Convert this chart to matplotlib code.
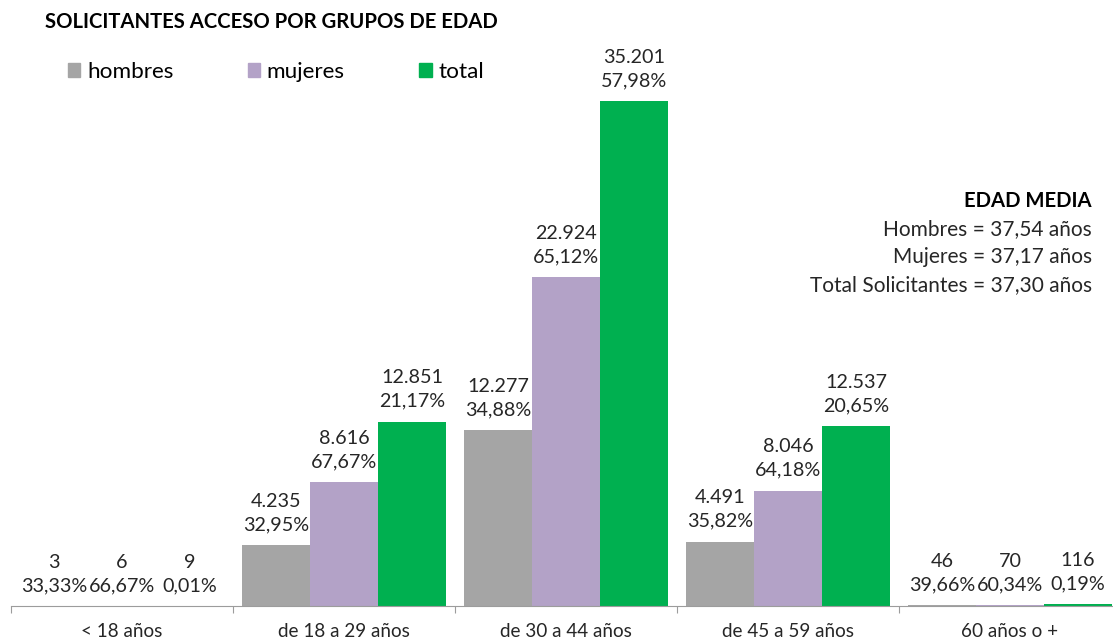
import numpy as np
import matplotlib
matplotlib.use("Agg")
import matplotlib.pyplot as plt
from matplotlib.patches import Patch

plt.rcParams['font.family'] = ['Lato', 'DejaVu Sans']

grupos = ['< 18 años', 'de 18 a 29 años', 'de 30 a 44 años', 'de 45 a 59 años', '60 años o +']
hombres = [3, 4235, 12277, 4491, 46]
mujeres = [6, 8616, 22924, 8046, 70]
total = [9, 12851, 35201, 12537, 116]
pct_hombres = ['33,33%', '32,95%', '34,88%', '35,82%', '39,66%']
pct_mujeres = ['66,67%', '67,67%', '65,12%', '64,18%', '60,34%']
pct_total = ['0,01%', '21,17%', '57,98%', '20,65%', '0,19%']
series = ['hombres', 'mujeres', 'total']
colores = ['#A5A5A5', '#B3A2C7', '#00B050']
edad_media = ['Hombres = 37,54 años', 'Mujeres = 37,17 años', 'Total Solicitantes = 37,30 años']

W, H = 1113, 641
fig = plt.figure(figsize=(W / 100, H / 100), dpi=100)
# plot area in pixels: left 11, bottom axis at y=606, top at y=32, width 1110
ax = fig.add_axes([11 / W, (H - 606) / H, 1110 / W, (606 - 32) / H])

x = np.arange(len(grupos))
bw = 0.306
datos = [hombres, mujeres, total]
pcts = [pct_hombres, pct_mujeres, pct_total]

for k in range(3):
    pos = x + (k - 1) * bw
    ax.bar(pos, datos[k], width=bw, color=colores[k], edgecolor='none')
    for i in range(len(grupos)):
        num = f"{datos[k][i]:,}".replace(',', '.')
        ax.annotate(num + '\n' + pcts[k][i], (pos[i], datos[k][i]),
                    xytext=(0, 8.5), textcoords='offset points',
                    ha='center', va='bottom', fontsize=14.2, color='#262626',
                    linespacing=1.45)

ax.set_xlim(-0.5, len(grupos) - 0.5)
ax.set_ylim(0, 40000)
ax.set_yticks([])
for s in ['top', 'right', 'left']:
    ax.spines[s].set_visible(False)
ax.spines['bottom'].set_color('#9C9C9C')
ax.set_xticks(np.arange(-0.5, len(grupos)), labels=[])
ax.tick_params(axis='x', which='major', length=5, color='#9C9C9C', direction='out')
ax.set_xticks(x, labels=grupos, minor=True)
ax.tick_params(axis='x', which='minor', length=0, labelsize=13.6, pad=12.5, labelcolor='#262626')

fig.text(45 / W, 1 - 22 / H, 'SOLICITANTES ACCESO POR GRUPOS DE EDAD',
         fontsize=14.6, fontweight='bold', va='center', ha='left', color='black')

handles = [Patch(color=c, label=s) for c, s in zip(colores, series)]
fig.legend(handles=handles, loc='center left', bbox_to_anchor=(68 / W, 1 - 72 / H),
           ncol=3, frameon=False, fontsize=16.2, handlelength=0.55, handleheight=0.55,
           handletextpad=0.3, columnspacing=3.3, borderaxespad=0, borderpad=0)

fig.text(1092 / W, 1 - 201 / H, 'EDAD MEDIA', fontsize=14.6, fontweight='bold',
         ha='right', va='center', color='black')
for j, t in enumerate(edad_media):
    fig.text(1092 / W, 1 - (229 + 28 * j) / H, t, fontsize=15,
             ha='right', va='center', color='#262626')

fig.savefig('out.png', dpi=100)
